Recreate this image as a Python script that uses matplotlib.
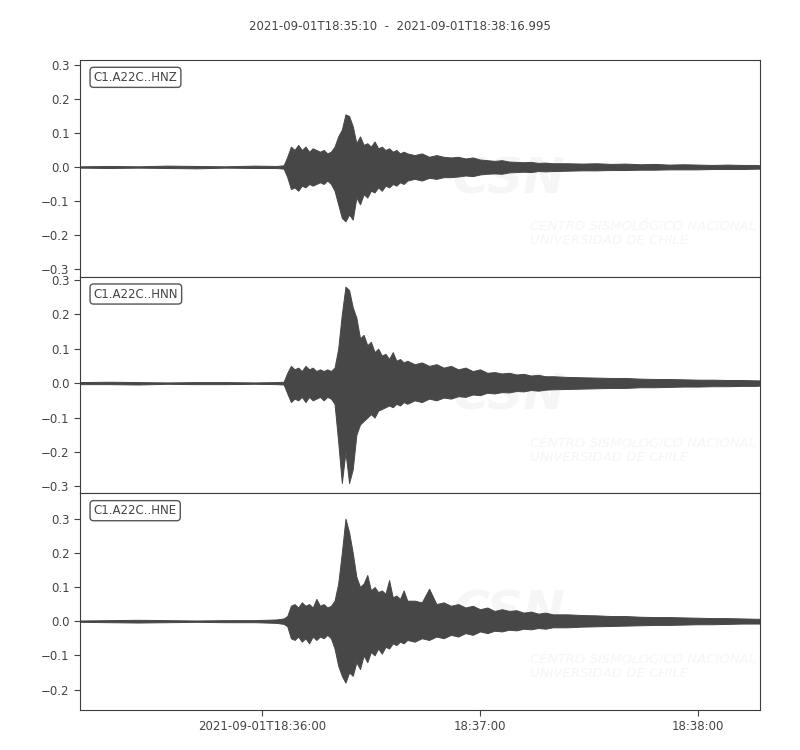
import datetime as dt
import numpy as np
import matplotlib
matplotlib.use("Agg")
import matplotlib.pyplot as plt
import matplotlib.dates as mdates
from matplotlib.ticker import FixedLocator, FixedFormatter

# seconds after 2021-09-01T18:35:10
t_pre = [0, 8, 16, 24, 32, 40, 48, 54, 56]
t_event = list(range(57, 91))
t_mid = list(range(92, 131, 2))
t_tail = list(range(134, 187, 4)) + [187]

channels = ["C1.A22C..HNZ", "C1.A22C..HNN", "C1.A22C..HNE"]

# upper / lower envelopes (m/s^2)
hnz_up = ([0.002, 0.003, 0.002, 0.004, 0.003, 0.002, 0.004, 0.003, 0.005]
          + [0.03, 0.06, 0.05, 0.065, 0.05, 0.06, 0.045, 0.055, 0.05, 0.045, 0.05, 0.04,
             0.045, 0.06, 0.09, 0.11, 0.155, 0.15, 0.12, 0.07, 0.09, 0.065, 0.07, 0.06,
             0.075, 0.055, 0.06, 0.05, 0.055, 0.045, 0.05, 0.04, 0.045, 0.04]
          + [0.035, 0.04, 0.03, 0.035, 0.03, 0.028, 0.03, 0.025, 0.028, 0.022, 0.02, 0.018,
             0.02, 0.016, 0.015, 0.014, 0.015, 0.012, 0.013, 0.011]
          + [0.011, 0.01, 0.011, 0.009, 0.01, 0.008, 0.009, 0.007, 0.008, 0.007, 0.006,
             0.007, 0.006, 0.006, 0.005])
hnz_lo = ([-0.002, -0.003, -0.002, -0.003, -0.004, -0.002, -0.003, -0.003, -0.005]
          + [-0.03, -0.065, -0.06, -0.07, -0.055, -0.06, -0.05, -0.055, -0.05, -0.045, -0.05,
             -0.04, -0.05, -0.07, -0.11, -0.15, -0.16, -0.14, -0.155, -0.09, -0.11, -0.08,
             -0.09, -0.07, -0.075, -0.06, -0.07, -0.055, -0.06, -0.05, -0.055, -0.045, -0.05,
             -0.04]
          + [-0.035, -0.04, -0.032, -0.035, -0.03, -0.03, -0.028, -0.025, -0.027, -0.022,
             -0.02, -0.019, -0.02, -0.016, -0.015, -0.014, -0.015, -0.012, -0.013, -0.012]
          + [-0.011, -0.01, -0.01, -0.009, -0.009, -0.008, -0.008, -0.007, -0.007, -0.007,
             -0.006, -0.006, -0.006, -0.005, -0.005])

hnn_up = ([0.003, 0.004, 0.003, 0.002, 0.003, 0.003, 0.002, 0.003, 0.004]
          + [0.03, 0.05, 0.04, 0.045, 0.035, 0.05, 0.04, 0.045, 0.035, 0.04, 0.035, 0.04,
             0.035, 0.045, 0.1, 0.2, 0.28, 0.27, 0.22, 0.19, 0.13, 0.14, 0.11, 0.12, 0.09,
             0.1, 0.08, 0.085, 0.07, 0.09, 0.065, 0.07, 0.06, 0.065]
          + [0.055, 0.06, 0.05, 0.055, 0.045, 0.05, 0.04, 0.045, 0.035, 0.04, 0.03, 0.032,
             0.028, 0.03, 0.025, 0.027, 0.022, 0.024, 0.02, 0.02]
          + [0.018, 0.017, 0.016, 0.015, 0.015, 0.013, 0.012, 0.012, 0.011, 0.01, 0.01,
             0.009, 0.009, 0.008, 0.008])
hnn_lo = ([-0.003, -0.003, -0.004, -0.002, -0.003, -0.003, -0.002, -0.003, -0.004]
          + [-0.03, -0.055, -0.045, -0.05, -0.04, -0.055, -0.04, -0.05, -0.045, -0.04, -0.05,
             -0.04, -0.045, -0.06, -0.17, -0.29, -0.2, -0.29, -0.25, -0.15, -0.12, -0.11,
             -0.1, -0.09, -0.1, -0.08, -0.075, -0.07, -0.065, -0.07, -0.06, -0.065, -0.055,
             -0.06]
          + [-0.05, -0.055, -0.045, -0.05, -0.042, -0.045, -0.038, -0.04, -0.033, -0.035,
             -0.028, -0.03, -0.026, -0.027, -0.023, -0.024, -0.02, -0.022, -0.019, -0.018]
          + [-0.017, -0.016, -0.015, -0.014, -0.014, -0.012, -0.012, -0.011, -0.01, -0.01,
             -0.009, -0.009, -0.008, -0.008, -0.007])

hne_up = ([0.002, 0.003, 0.004, 0.003, 0.002, 0.003, 0.003, 0.005, 0.008]
          + [0.015, 0.045, 0.05, 0.04, 0.055, 0.045, 0.05, 0.04, 0.065, 0.045, 0.05, 0.04,
             0.045, 0.06, 0.11, 0.2, 0.3, 0.26, 0.2, 0.13, 0.1, 0.11, 0.135, 0.09, 0.1,
             0.085, 0.09, 0.08, 0.12, 0.07, 0.075, 0.065, 0.09, 0.06]
          + [0.06, 0.055, 0.095, 0.05, 0.055, 0.045, 0.05, 0.04, 0.045, 0.035, 0.04, 0.03,
             0.035, 0.03, 0.032, 0.025, 0.028, 0.022, 0.025, 0.02]
          + [0.02, 0.018, 0.017, 0.015, 0.015, 0.013, 0.012, 0.012, 0.011, 0.01, 0.009,
             0.009, 0.008, 0.007, 0.007])
hne_lo = ([-0.002, -0.003, -0.004, -0.003, -0.002, -0.003, -0.003, -0.005, -0.008]
          + [-0.015, -0.05, -0.055, -0.045, -0.06, -0.05, -0.065, -0.045, -0.055, -0.045,
             -0.05, -0.04, -0.05, -0.08, -0.13, -0.16, -0.18, -0.15, -0.16, -0.12, -0.14,
             -0.1, -0.12, -0.09, -0.1, -0.08, -0.095, -0.075, -0.08, -0.065, -0.07, -0.06,
             -0.065, -0.055]
          + [-0.06, -0.05, -0.055, -0.045, -0.05, -0.04, -0.045, -0.035, -0.04, -0.03,
             -0.035, -0.028, -0.03, -0.025, -0.027, -0.022, -0.024, -0.02, -0.022, -0.018]
          + [-0.018, -0.016, -0.015, -0.014, -0.013, -0.012, -0.011, -0.011, -0.01, -0.009,
             -0.009, -0.008, -0.007, -0.007, -0.007])

ylims = [(-0.323, 0.315), (-0.32, 0.309), (-0.26, 0.374)]
yticks = [[-0.3, -0.2, -0.1, 0.0, 0.1, 0.2, 0.3],
          [-0.3, -0.2, -0.1, 0.0, 0.1, 0.2, 0.3],
          [-0.2, -0.1, 0.0, 0.1, 0.2, 0.3]]

start = dt.datetime(2021, 9, 1, 18, 35, 10)
end = start + dt.timedelta(seconds=186.995)
tick_times = [dt.datetime(2021, 9, 1, 18, 36), dt.datetime(2021, 9, 1, 18, 37),
              dt.datetime(2021, 9, 1, 18, 38)]
tick_labels = ["2021-09-01T18:36:00", "18:37:00", "18:38:00"]

wave_color = "#474747"
text_color = "#444444"
fs = 8.5

t_all = np.array(t_pre + t_event + t_mid + t_tail, dtype=float)
x = mdates.date2num(start) + t_all / 86400.0

fig, axes = plt.subplots(3, 1, figsize=(8, 7.5), dpi=100, sharex=True)
fig.subplots_adjust(left=0.1, right=0.95, top=0.92, bottom=0.0533, hspace=0)

envs = [(hnz_up, hnz_lo), (hnn_up, hnn_lo), (hne_up, hne_lo)]
for i, ax in enumerate(axes):
    up, lo = envs[i]
    # faint CSN watermark
    ax.text(0.548, 0.45, "CSN", transform=ax.transAxes, fontsize=36,
            fontweight="bold", style="italic", color="#f6f6f6", ha="left",
            va="center", zorder=0, clip_on=True)
    ax.text(0.662, 0.2, "CENTRO SISMOLÓGICO NACIONAL\nUNIVERSIDAD DE CHILE",
            transform=ax.transAxes, fontsize=9.5, style="italic", color="#f6f6f6",
            ha="left", va="center", linespacing=1.1, zorder=0, clip_on=True)
    ax.fill_between(x, lo, up, color=wave_color, lw=0.7, zorder=2)
    ax.set_ylim(*ylims[i])
    ax.set_yticks(yticks[i])
    ax.set_xlim(mdates.date2num(start), mdates.date2num(end))
    ax.text(0.02, 0.92, channels[i], transform=ax.transAxes, fontsize=fs,
            color=text_color, ha="left", va="center", zorder=5,
            bbox=dict(boxstyle="round,pad=0.3", fc="white", ec="#555555", lw=1))
    for s in ax.spines.values():
        s.set_color("#3c3c3c")
    ax.tick_params(axis="y", labelsize=fs, colors=text_color, direction="out",
                   length=4)
    ax.tick_params(axis="x", labelsize=fs, colors=text_color, direction="out",
                   length=4)
    if i < 2:
        ax.tick_params(axis="x", bottom=False, labelbottom=False)

axes[-1].xaxis.set_major_locator(FixedLocator(mdates.date2num(tick_times)))
axes[-1].xaxis.set_major_formatter(FixedFormatter(tick_labels))

fig.suptitle("2021-09-01T18:35:10  -  2021-09-01T18:38:16.995", fontsize=fs,
             color=text_color, y=0.973)

fig.savefig("out.png", dpi=100)
